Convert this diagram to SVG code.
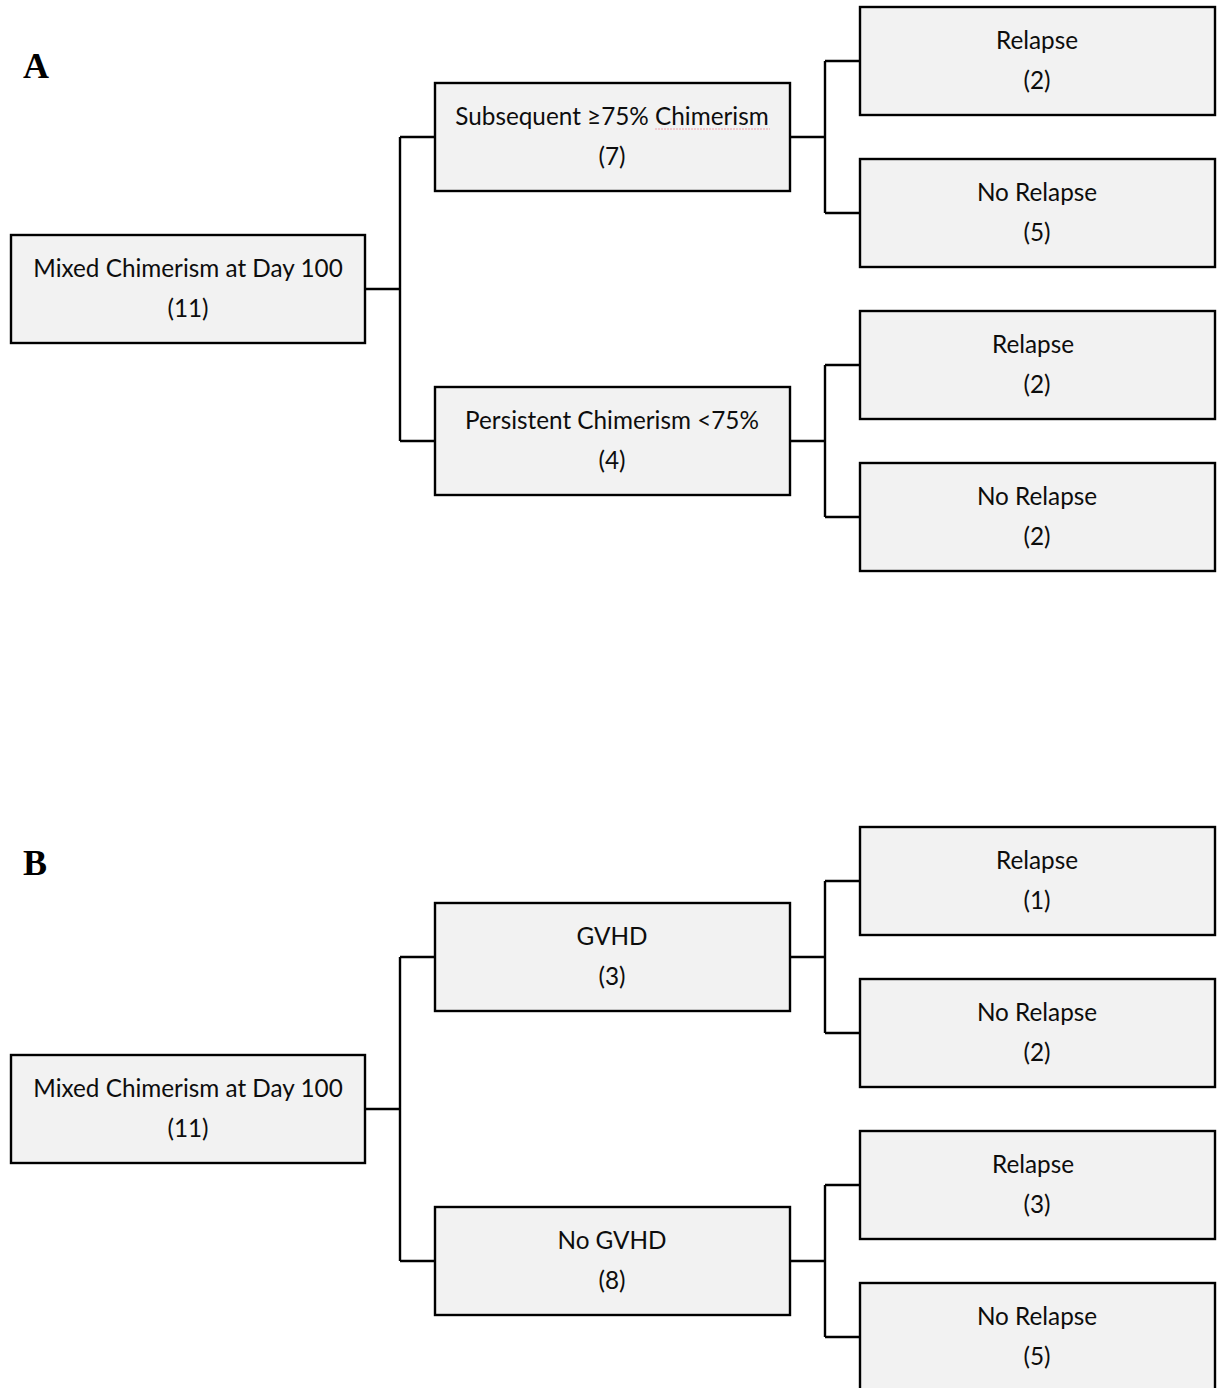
<svg xmlns="http://www.w3.org/2000/svg" width="1218" height="1388" viewBox="0 0 1218 1388">
<style>
.box{fill:#f2f2f2;stroke:#000;stroke-width:2.4}
.t{font-family:Lato,"Open Sans","Liberation Sans",sans-serif;font-size:24.3px;fill:#0d0d0d;text-anchor:middle}
.lbl{font-family:"Liberation Serif","Times New Roman",serif;font-weight:bold;font-size:36px;fill:#000}
.c{fill:none;stroke:#000;stroke-width:2.4}
</style>
<rect width="1218" height="1388" fill="#fff"/>
<text class="lbl" x="23" y="78">A</text>
<text class="lbl" x="23" y="875">B</text>
<g id="connectors">
<path class="c" d="M365,289H400M400,137V441M400,137H435M400,441H435"/>
<path class="c" d="M790,137H825M825,61V213M825,61H860M825,213H860"/>
<path class="c" d="M790,441H825M825,365V517M825,365H860M825,517H860"/>
<path class="c" d="M365,1109H400M400,957V1261M400,957H435M400,1261H435"/>
<path class="c" d="M790,957H825M825,881V1033M825,881H860M825,1033H860"/>
<path class="c" d="M790,1261H825M825,1185V1337M825,1185H860M825,1337H860"/>
</g>
<g id="a-root"><rect class="box" x="11" y="235" width="354" height="108"/><text class="t" x="188" y="277">Mixed Chimerism at Day 100</text><text class="t" x="188" y="317">(11)</text></g>
<g id="a-sub"><rect class="box" x="435" y="83" width="355" height="108"/><text class="t" x="612" y="125">Subsequent ≥75% Chimerism</text><text class="t" x="612" y="165">(7)</text><line x1="655" y1="129" x2="770" y2="129" stroke="#f0a0a8" stroke-width="1" stroke-dasharray="2,1"/></g>
<g id="a-sub-rel"><rect class="box" x="860" y="7" width="355" height="108"/><text class="t" x="1037" y="49">Relapse</text><text class="t" x="1037" y="89">(2)</text></g>
<g id="a-sub-norel"><rect class="box" x="860" y="159" width="355" height="108"/><text class="t" x="1037" y="201">No Relapse</text><text class="t" x="1037" y="241">(5)</text></g>
<g id="a-per"><rect class="box" x="435" y="387" width="355" height="108"/><text class="t" x="612" y="429">Persistent Chimerism &lt;75%</text><text class="t" x="612" y="469">(4)</text></g>
<g id="a-per-rel"><rect class="box" x="860" y="311" width="355" height="108"/><text class="t" x="1033" y="353">Relapse</text><text class="t" x="1037" y="393">(2)</text></g>
<g id="a-per-norel"><rect class="box" x="860" y="463" width="355" height="108"/><text class="t" x="1037" y="505">No Relapse</text><text class="t" x="1037" y="545">(2)</text></g>
<g id="b-root"><rect class="box" x="11" y="1055" width="354" height="108"/><text class="t" x="188" y="1097">Mixed Chimerism at Day 100</text><text class="t" x="188" y="1137">(11)</text></g>
<g id="b-gvhd"><rect class="box" x="435" y="903" width="355" height="108"/><text class="t" x="612" y="945">GVHD</text><text class="t" x="612" y="985">(3)</text></g>
<g id="b-gvhd-rel"><rect class="box" x="860" y="827" width="355" height="108"/><text class="t" x="1037" y="869">Relapse</text><text class="t" x="1037" y="909">(1)</text></g>
<g id="b-gvhd-norel"><rect class="box" x="860" y="979" width="355" height="108"/><text class="t" x="1037" y="1021">No Relapse</text><text class="t" x="1037" y="1061">(2)</text></g>
<g id="b-nogvhd"><rect class="box" x="435" y="1207" width="355" height="108"/><text class="t" x="612" y="1249">No GVHD</text><text class="t" x="612" y="1289">(8)</text></g>
<g id="b-nogvhd-rel"><rect class="box" x="860" y="1131" width="355" height="108"/><text class="t" x="1033" y="1173">Relapse</text><text class="t" x="1037" y="1213">(3)</text></g>
<g id="b-nogvhd-norel"><rect class="box" x="860" y="1283" width="355" height="108"/><text class="t" x="1037" y="1325">No Relapse</text><text class="t" x="1037" y="1365">(5)</text></g>
</svg>
